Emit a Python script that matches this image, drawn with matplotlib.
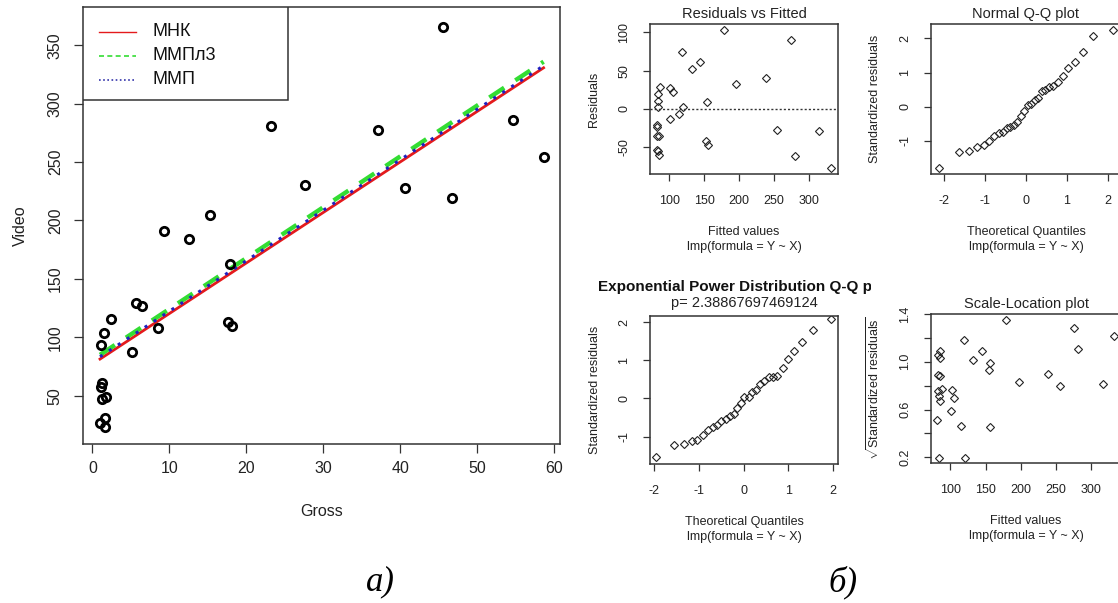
import matplotlib.pyplot as plt
from matplotlib.patches import Rectangle
from matplotlib.transforms import Bbox, TransformedBbox
import numpy as np

plt.rcParams['font.family'] = ['Liberation Sans', 'DejaVu Sans']
plt.rcParams['mathtext.fontset'] = 'custom'
plt.rcParams['mathtext.rm'] = 'Liberation Sans'
plt.rcParams['axes.unicode_minus'] = False

# --- data: a) scatter Gross vs Video with three fitted lines
gross = [1.1, 1.5, 2.4, 5.2, 5.7, 6.4, 8.5, 1.3, 1.1, 1.3, 1.8, 1.0, 1.6, 1.7,
         9.3, 12.6, 15.3, 17.9, 17.6, 18.1, 23.2, 27.6, 37.1, 40.6, 45.5, 46.7,
         54.6, 58.6]
video = [93.4, 103.4, 115.7, 87.1, 129.1, 126.9, 107.7, 61.1, 57.1, 46.9, 48.9,
         26.3, 30.6, 23.4, 191, 184, 205, 163, 112.7, 109.3, 281, 230, 277.8,
         227.4, 366, 218.9, 286.3, 254.6]
methods = ['МНК', 'ММПл3', 'ММП']
intercepts = [77.0, 80.6, 79.0]
slopes = [4.33, 4.358, 4.326]

# --- data: б) diagnostic plots
fitted = [83.3, 84.3, 87.1, 84.0, 82.0, 83.0, 83.0, 85.0, 82.0, 84.0, 85.0,
          101.4, 104.8, 100.5, 117.6, 120.0, 114.0, 132.0, 143.8, 154.8, 153.3,
          156.2, 178.6, 196.2, 238.1, 254.3, 274.8, 280.0, 315.2, 331.4]
resid = [10.8, 19.5, 28.3, 2.0, -24.0, -21.0, -36.0, -35.0, -54.0, -55.0, -60.0,
         27.4, 22.2, -12.8, 73.8, 2.0, -6.3, 52.3, 61.0, 8.6, -41.7, -47.8,
         103.5, 32.2, 39.7, -27.2, 89.5, -61.3, -28.6, -77.5]

qq_theor = [-2.13, -1.64, -1.38, -1.19, -1.03, -0.90, -0.78, -0.67, -0.57, -0.47,
            -0.38, -0.29, -0.21, -0.13, -0.04, 0.04, 0.13, 0.21, 0.29, 0.38,
            0.47, 0.57, 0.67, 0.78, 0.90, 1.03, 1.19, 1.38, 1.64, 2.13]
qq_std = [-1.78, -1.34, -1.30, -1.18, -1.12, -0.99, -0.85, -0.78, -0.73, -0.63,
          -0.58, -0.53, -0.44, -0.27, -0.12, 0.04, 0.07, 0.19, 0.26, 0.46,
          0.50, 0.59, 0.62, 0.73, 0.90, 1.12, 1.31, 1.60, 2.06, 2.24]

ep_theor = [-1.97, -1.57, -1.34, -1.16, -1.04, -0.91, -0.81, -0.70, -0.60, -0.51,
            -0.40, -0.31, -0.23, -0.15, -0.06, 0.01, 0.11, 0.19, 0.28, 0.37,
            0.46, 0.56, 0.66, 0.75, 0.87, 0.99, 1.13, 1.30, 1.54, 1.95]
ep_std = [-1.54, -1.23, -1.20, -1.11, -1.08, -0.96, -0.84, -0.74, -0.71, -0.58,
          -0.55, -0.47, -0.40, -0.25, -0.13, 0.04, 0.04, 0.18, 0.22, 0.39,
          0.45, 0.55, 0.57, 0.60, 0.80, 1.04, 1.23, 1.47, 1.80, 2.08]
ep_p = '2.38867697469124'

sl_fitted = [81.3, 83.7, 82.3, 84.7, 84.7, 82.8, 84.7, 82.3, 83.3, 84.7, 87.6,
             101.9, 104.8, 100.5, 114.4, 119.1, 120.1, 131.6, 144.5, 154.1,
             156.5, 155.5, 178.9, 197.6, 238.8, 255.0, 275.1, 281.3, 316.7, 332.5]
sl_sqrt = [0.515, 0.196, 1.059, 1.09, 1.034, 0.892, 0.878, 0.757, 0.71, 0.674,
           0.774, 0.763, 0.699, 0.587, 0.459, 1.179, 0.199, 1.012, 1.093, 0.931,
           0.987, 0.456, 1.352, 0.827, 0.897, 0.794, 1.283, 1.107, 0.811, 1.213]

W, H = 1118, 603
fig = plt.figure(figsize=(W / 100, H / 100), dpi=100)


def box(x0, y0, x1, y1):
    # pixel box -> figure fraction rect
    return [x0 / W, 1 - y1 / H, (x1 - x0) / W, (y1 - y0) / H]


def r_style(ax, fs, tl):
    for s in ax.spines.values():
        s.set_color('#333333')
        s.set_linewidth(1.1)
    ax.tick_params(direction='out', length=tl, width=0.9, color='#333333',
                   labelsize=fs, labelcolor='#222222')
    for lab in ax.get_yticklabels():
        lab.set_rotation(90)
        lab.set_va('center')


# ---------------- a) ----------------
ax = fig.add_axes(box(83, 7, 560, 444))
ax.plot(gross, video, 'o', ms=6, mfc='none', mec='black', mew=2.0, zorder=3)
xs = np.array([min(gross), max(gross)])
styles = [dict(color='#e41a1c', ls='-', lw=2.0),
          dict(color='#33dd33', ls=(0, (4, 3)), lw=3.2),
          dict(color='#2020c0', ls=(0, (1, 2.5)), lw=2.2)]
for a, b, st in zip(intercepts, slopes, styles):
    ax.plot(xs, a + b * xs, **st, zorder=2)
ax.set_xlim(-1.21, 60.73)
ax.set_ylim(8.6, 382.8)
ax.set_xticks(range(0, 61, 10))
ax.set_yticks(range(50, 351, 50))
r_style(ax, 11.5, 6.5)
ax.tick_params(axis='y', pad=8)
ax.tick_params(axis='x', pad=6)
ax.set_xlabel('Gross', fontsize=11.5, color='#222222', labelpad=20)
ax.set_ylabel('Video', fontsize=11.5, color='#222222', labelpad=14)

# legend box (R style, top-left)
leg_w, leg_h = 205 / 477, 93 / 437
ax.add_patch(Rectangle((0, 1 - leg_h), leg_w, leg_h, transform=ax.transAxes,
                       fill=True, fc='white', ec='#333333', lw=1.1, zorder=5))
leg_styles = [dict(color='#e41a1c', ls='-', lw=1.0),
              dict(color='#33dd33', ls=(0, (3, 2)), lw=1.2),
              dict(color='#3333aa', ls=(0, (1, 1.5)), lw=1.2)]
for i, (name, st) in enumerate(zip(methods, leg_styles)):
    yy = 1 - (25 + 24 * i) / 437
    ax.plot([16 / 477, 53 / 477], [yy, yy], transform=ax.transAxes, zorder=6, **st)
    ax.text(69 / 477, yy, name, transform=ax.transAxes, fontsize=13,
            va='center', ha='left', color='#111111', zorder=6)

mk = dict(ls='none', marker='D', ms=4.0, mfc='none', mec='#222222', mew=0.8)
xlab2 = 'lmp(formula = Y ~ X)'

# ---------------- б) top-left: Residuals vs Fitted ----------------
a1 = fig.add_axes(box(650, 24, 838, 174))
a1.plot(fitted, resid, **mk)
a1.axhline(0, color='#333333', ls=(0, (1.5, 1.5)), lw=1.0)
a1.set_xlim(72.4, 342)
a1.set_ylim(-85.4, 111)
a1.set_xticks(range(100, 301, 50))
a1.set_yticks([-50, 0, 50, 100])
a1.set_title('Residuals vs Fitted', fontsize=10.5, pad=4, color='#222222')

# ---------------- top-right: Normal Q-Q ----------------
a2 = fig.add_axes(box(931, 24, 1121, 174))
a2.plot(qq_theor, qq_std, **mk)
a2.set_xlim(-2.32, 2.32)
a2.set_ylim(-1.97, 2.42)
a2.set_xticks([-2, -1, 0, 1, 2])
a2.set_yticks([-1, 0, 1, 2])
a2.set_title('Normal Q-Q plot', fontsize=10.5, pad=4, color='#222222')

# ---------------- bottom-left: Exponential power Q-Q ----------------
a3 = fig.add_axes(box(650, 316, 838, 464))
a3.plot(ep_theor, ep_std, **mk)
a3.set_xlim(-2.10, 2.11)
a3.set_ylim(-1.72, 2.16)
a3.set_xticks([-2, -1, 0, 1, 2])
a3.set_yticks([-1, 0, 1, 2])
t = a3.text(0.5, 1 + 22 / 148, 'Exponential Power Distribution Q-Q plot',
            transform=a3.transAxes, ha='center', va='bottom', fontsize=11,
            fontweight='bold', color='#111111')
t.set_clip_box(TransformedBbox(Bbox([[0, 0], [871 / W, 1]]), fig.transFigure))
t.set_clip_on(True)
a3.text(0.5, 1 + 6 / 148, 'p= ' + ep_p, transform=a3.transAxes, ha='center',
        va='bottom', fontsize=10.5, color='#222222')

# ---------------- bottom-right: Scale-Location ----------------
a4 = fig.add_axes(box(931, 314, 1121, 463))
a4.plot(sl_fitted, sl_sqrt, **mk)
a4.set_xlim(72.4, 342)
a4.set_ylim(0.153, 1.4)
a4.set_xticks(range(100, 301, 50))
a4.set_yticks([0.2, 0.4, 0.6, 0.8, 1.0, 1.2, 1.4])
a4.set_yticklabels(['0.2', '', '0.6', '', '1.0', '', '1.4'])
a4.set_title('Scale-Location plot', fontsize=10.5, pad=4, color='#222222')

for a_, xl, yl in [(a1, 'Fitted values', 'Residuals'),
                   (a2, 'Theoretical Quantiles', 'Standardized residuals'),
                   (a3, 'Theoretical Quantiles', 'Standardized residuals'),
                   (a4, 'Fitted values', r'$\sqrt{\mathrm{Standardized\ residuals}}$')]:
    r_style(a_, 9, 5)
    a_.tick_params(axis='y', pad=9)
    a_.tick_params(axis='x', pad=10)
    a_.set_xlabel(xl + '\n' + xlab2, fontsize=9, color='#222222',
                  labelpad=14, linespacing=1.3)
    a_.set_ylabel(yl, fontsize=9, color='#222222', labelpad=13)

# captions
fig.text(380 / W, 1 - 582 / H, 'а)', fontsize=25, style='italic',
         family='Liberation Serif', ha='center', va='center')
fig.text(843 / W, 1 - 582 / H, 'б)', fontsize=25, style='italic',
         family='Liberation Serif', ha='center', va='center')

fig.savefig('out.png', dpi=100)
